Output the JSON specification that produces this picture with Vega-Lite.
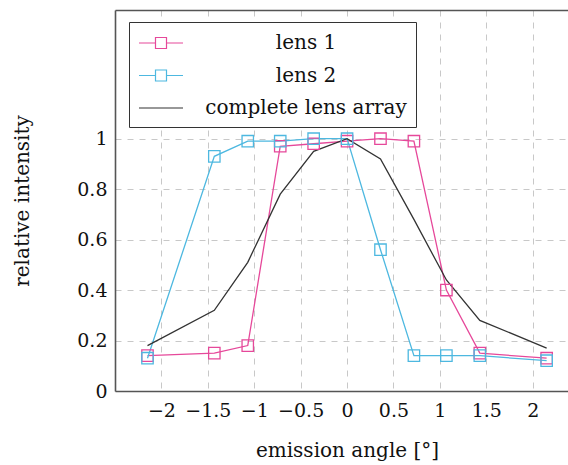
{
  "$schema": "https://vega.github.io/schema/vega-lite/v6.json",
  "width": 453,
  "height": 381,
  "autosize": "none",
  "padding": {"left": 115, "top": 10, "right": 0, "bottom": 74},
  "background": "white",
  "config": {
    "view": {"stroke": null},
    "font": "DejaVu Serif",
    "axis": {
      "labelFont": "DejaVu Serif",
      "labelFontSize": 19,
      "labelColor": "#111",
      "titleFont": "DejaVu Serif",
      "titleFontSize": 20,
      "titleFontWeight": "normal",
      "titleColor": "#111",
      "domainColor": "#555",
      "domainWidth": 1.6,
      "ticks": false,
      "gridColor": "#c8c8c8",
      "gridDash": [6, 6],
      "gridWidth": 1
    }
  },
  "data": {
    "values": [
      {"series": "lens 1", "angle": -2.15, "intensity": 0.14},
      {"series": "lens 1", "angle": -1.43, "intensity": 0.15},
      {"series": "lens 1", "angle": -1.07, "intensity": 0.18},
      {"series": "lens 1", "angle": -0.72, "intensity": 0.97},
      {"series": "lens 1", "angle": -0.36, "intensity": 0.98},
      {"series": "lens 1", "angle": 0.0, "intensity": 0.99},
      {"series": "lens 1", "angle": 0.36, "intensity": 1.0},
      {"series": "lens 1", "angle": 0.72, "intensity": 0.99},
      {"series": "lens 1", "angle": 1.07, "intensity": 0.4},
      {"series": "lens 1", "angle": 1.43, "intensity": 0.15},
      {"series": "lens 1", "angle": 2.15, "intensity": 0.13},
      {"series": "lens 2", "angle": -2.15, "intensity": 0.13},
      {"series": "lens 2", "angle": -1.43, "intensity": 0.93},
      {"series": "lens 2", "angle": -1.07, "intensity": 0.99},
      {"series": "lens 2", "angle": -0.72, "intensity": 0.99},
      {"series": "lens 2", "angle": -0.36, "intensity": 1.0},
      {"series": "lens 2", "angle": 0.0, "intensity": 1.0},
      {"series": "lens 2", "angle": 0.36, "intensity": 0.56},
      {"series": "lens 2", "angle": 0.72, "intensity": 0.14},
      {"series": "lens 2", "angle": 1.07, "intensity": 0.14},
      {"series": "lens 2", "angle": 1.43, "intensity": 0.14},
      {"series": "lens 2", "angle": 2.15, "intensity": 0.12},
      {"series": "complete lens array", "angle": -2.15, "intensity": 0.18},
      {"series": "complete lens array", "angle": -1.43, "intensity": 0.32},
      {"series": "complete lens array", "angle": -1.07, "intensity": 0.51},
      {"series": "complete lens array", "angle": -0.72, "intensity": 0.78},
      {"series": "complete lens array", "angle": -0.36, "intensity": 0.95},
      {"series": "complete lens array", "angle": 0.0, "intensity": 1.0},
      {"series": "complete lens array", "angle": 0.36, "intensity": 0.92},
      {"series": "complete lens array", "angle": 0.72, "intensity": 0.68},
      {"series": "complete lens array", "angle": 1.07, "intensity": 0.44},
      {"series": "complete lens array", "angle": 1.43, "intensity": 0.28},
      {"series": "complete lens array", "angle": 2.15, "intensity": 0.17}
    ]
  },
  "encoding": {
    "y": {
      "field": "intensity",
      "type": "quantitative",
      "scale": {"domain": [0, 1.51], "nice": false},
      "axis": {
        "title": "relative intensity",
        "values": [0, 0.2, 0.4, 0.6, 0.8, 1],
        "format": ".1~f",
        "labelPadding": 8,
        "titlePadding": 44
      }
    },
    "color": {
      "field": "series",
      "type": "nominal",
      "scale": {
        "domain": ["lens 1", "lens 2", "complete lens array"],
        "range": ["#e6489a", "#4db8e0", "#333333"]
      },
      "legend": {
        "orient": "none",
        "legendX": 14,
        "legendY": 12,
        "title": null,
        "padding": 9,
        "strokeColor": "#333",
        "fillColor": "white",
        "symbolType": "M-2,0H-0.5M0.5,0H2M-0.5,-0.5H0.5V0.5H-0.5Z",
        "symbolSize": 484,
        "symbolOffset": 11,
        "symbolStrokeWidth": 1.2,
        "symbolFillColor": "transparent",
        "labelFont": "DejaVu Serif",
        "labelFontSize": 20,
        "labelColor": "#111",
        "labelAlign": "center",
        "labelOffset": 133,
        "labelLimit": 400,
        "rowPadding": 10.5,
        "encode": {
          "symbols": {
            "update": {
              "shape": {"signal": "datum.value === 'complete lens array' ? 'M-2,0H2' : 'M-2,0H-0.5M0.5,0H2M-0.5,-0.5H0.5V0.5H-0.5Z'"},
              "fill": {"value": "transparent"}
            }
          }
        }
      }
    }
  },
  "resolve": {"axis": {"x": "independent"}},
  "layer": [
    {
      "mark": {"type": "line", "strokeWidth": 1.3},
      "encoding": {
        "x": {
          "field": "angle",
          "type": "quantitative",
          "scale": {"domain": [-2.5, 2.38], "nice": false, "zero": false},
          "axis": {
            "title": "emission angle [°]",
            "values": [-2, -1.5, -1, -0.5, 0, 0.5, 1, 1.5, 2],
            "format": ".1~f",
            "labelPadding": 10,
            "titlePadding": 20,
            "titleX": 232
          }
        },
        "order": {"field": "angle", "type": "quantitative"}
      }
    },
    {
      "transform": [{"filter": "datum.series !== 'complete lens array'"}],
      "mark": {"type": "point", "shape": "square", "filled": false, "size": 130, "strokeWidth": 1.3, "opacity": 1},
      "encoding": {
        "x": {"field": "angle", "type": "quantitative", "axis": null}
      }
    },
    {
      "mark": {"type": "point", "opacity": 0},
      "encoding": {
        "x": {
          "field": "angle",
          "type": "quantitative",
          "axis": {"orient": "top", "labels": false, "grid": false, "title": null, "ticks": false, "domain": true}
        }
      }
    }
  ]
}
